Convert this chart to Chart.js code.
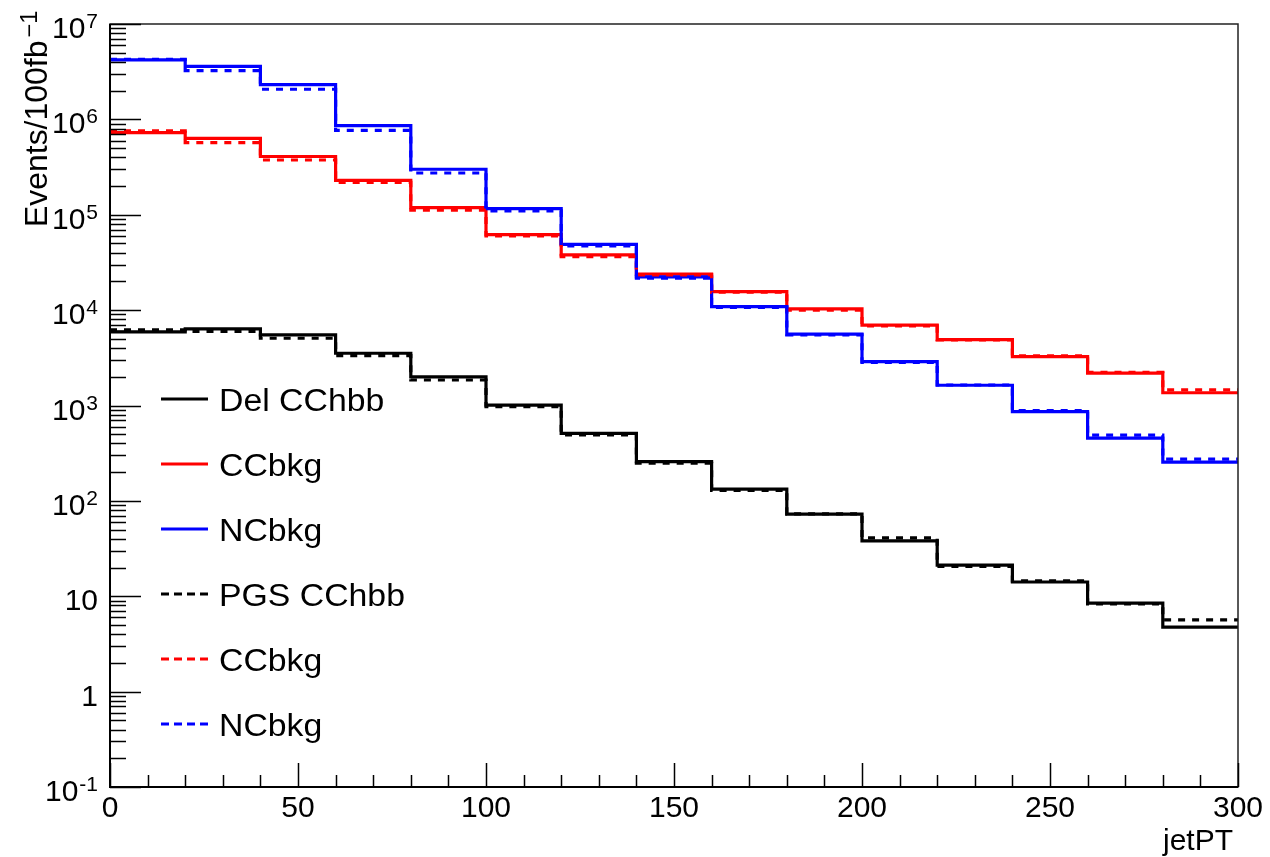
<!DOCTYPE html>
<html><head><meta charset="utf-8">
<script src="https://cdn.jsdelivr.net/npm/chart.js@4"></script>
<style>html,body{margin:0;padding:0;background:#fff;} canvas{display:block;}</style>
</head><body>
<canvas id="c" width="1270" height="857"></canvas>
<script>
// ---- data ----
const binEdges = [0,20,40,60,80,100,120,140,160,180,200,220,240,260,280,300];
const delCChbb = [5910,6350,5500,3530,1995,1010,510,258,133,72.6,38.1,21.2,14.1,8.47,4.74];
const delCCbkg = [726000,631000,408000,229000,119000,61800,37900,23800,15600,10300,6950,4910,3260,2180,1360];
const delNCbkg = [4200000,3600000,2310000,860000,300000,116000,49000,22300,10900,5600,2880,1630,863,454,255];
const pgsCChbb = [6200,5980,5070,3330,1850,975,492,248,129,73.1,40.9,20.5,14.5,8.32,5.66];
const pgsCCbkg = [756000,570000,375000,219000,112000,60000,36400,23400,15400,10000,6830,4870,3310,2220,1460];
const pgsNCbkg = [4270000,3240000,2070000,765000,274000,110000,47100,21600,10700,5500,2830,1640,885,489,274];
const seriesLabels = ['Del CChbb','CCbkg','NCbkg','PGS CChbb','CCbkg','NCbkg'];
const xTickValues = [0,50,100,150,200,250,300];
const yTickExponents = [-1,0,1,2,3,4,5,6,7];
const xTitle = 'jetPT';
const yTitle = 'Events/100fb';
const yTitleSup = '-1';

const FONT = '"Liberation Sans", Arial, Helvetica, sans-serif';

function histPoints(values) {
  return binEdges.map((x, i) => ({ x: x, y: values[Math.min(i, values.length - 1)] }));
}
const seriesValues = [delCChbb, delCCbkg, delNCbkg, pgsCChbb, pgsCCbkg, pgsNCbkg];
const seriesColors = ['#000000','#ff0000','#0000ff','#000000','#ff0000','#0000ff'];
const datasets = seriesValues.map((vals, i) => ({
  label: seriesLabels[i],
  data: histPoints(vals),
  borderColor: seriesColors[i],
  backgroundColor: seriesColors[i],
  borderWidth: 3.2,
  borderDash: i >= 3 ? [7, 7] : [],
  stepped: 'before',
  pointRadius: 0,
  fill: false,
  borderJoinStyle: 'miter',
  borderCapStyle: 'butt',
  order: -i
}));

const rootStyle = {
  id: 'rootStyle',
  afterDraw(chart) {
    const ctx = chart.ctx, a = chart.chartArea, xs = chart.scales.x, ys = chart.scales.y;
    ctx.save();
    ctx.setLineDash([]);
    // frame
    ctx.strokeStyle = '#222';
    ctx.lineWidth = 1.5;
    ctx.strokeRect(a.left, a.top, a.right - a.left, a.bottom - a.top);
    ctx.strokeStyle = '#000';
    ctx.lineWidth = 2;
    ctx.beginPath();
    ctx.moveTo(a.left, a.top); ctx.lineTo(a.left, a.bottom); ctx.lineTo(a.right, a.bottom);
    ctx.stroke();
    // x ticks (inward)
    ctx.lineWidth = 1.5;
    ctx.beginPath();
    for (let v = xs.min; v <= xs.max; v += 10) {
      const px = Math.round(xs.getPixelForValue(v)) + 0.5;
      const len = xTickValues.includes(v) ? 24 : 12;
      ctx.moveTo(px, a.bottom); ctx.lineTo(px, a.bottom - len);
    }
    ctx.stroke();
    // y ticks (inward)
    ctx.beginPath();
    yTickExponents.forEach(e => {
      const py = Math.round(ys.getPixelForValue(Math.pow(10, e))) + 0.5;
      ctx.moveTo(a.left, py); ctx.lineTo(a.left + 31, py);
      if (e < yTickExponents[yTickExponents.length - 1]) {
        for (let m = 2; m <= 9; m++) {
          const pm = Math.round(ys.getPixelForValue(m * Math.pow(10, e))) + 0.5;
          ctx.moveTo(a.left, pm); ctx.lineTo(a.left + 16, pm);
        }
      }
    });
    ctx.stroke();
    // y tick labels
    ctx.fillStyle = '#000';
    ctx.textBaseline = 'alphabetic';
    ctx.textAlign = 'right';
    const labelRight = a.left - 12;
    yTickExponents.forEach(e => {
      const py = ys.getPixelForValue(Math.pow(10, e));
      if (e === 0 || e === 1) {
        ctx.font = '30px ' + FONT;
        ctx.fillText(e === 0 ? '1' : '10', labelRight, py + 14);
      } else {
        const sup = String(e);
        ctx.font = '21px ' + FONT;
        const w = ctx.measureText(sup).width;
        ctx.fillText(sup, labelRight, py + 4);
        ctx.font = '30px ' + FONT;
        ctx.fillText('10', labelRight - w - 1, py + 14);
      }
    });
    // x title
    ctx.font = '30px ' + FONT;
    ctx.textAlign = 'right';
    ctx.fillText(xTitle, a.right - 5, 850);
    // y title (rotated)
    ctx.save();
    ctx.translate(47, 227);
    ctx.rotate(-Math.PI / 2);
    ctx.textAlign = 'left';
    ctx.font = '31px ' + FONT;
    ctx.scale(1.03, 1);
    ctx.fillText(yTitle, 0, 0);
    const tw = ctx.measureText(yTitle).width;
    ctx.font = '23px ' + FONT;
    ctx.fillText('\u2212' + yTitleSup.replace('-', ''), tw + 3, -10);
    ctx.restore();
    // legend
    const lx0 = 161, lx1 = 208, tx = 219, ly0 = 399, dy = 65;
    chart.data.datasets.forEach((ds, i) => {
      const ly = ly0 + i * dy;
      ctx.strokeStyle = ds.borderColor;
      ctx.lineWidth = 3;
      ctx.setLineDash(ds.borderDash.length ? [8, 5] : []);
      ctx.beginPath(); ctx.moveTo(lx0, ly); ctx.lineTo(lx1, ly); ctx.stroke();
      ctx.setLineDash([]);
      ctx.save();
      ctx.translate(tx, ly + 3);
      ctx.scale(1.09, 1);
      ctx.fillStyle = '#000';
      ctx.font = '31px ' + FONT;
      ctx.textAlign = 'left';
      ctx.textBaseline = 'middle';
      ctx.fillText(ds.label, 0, 0);
      ctx.restore();
    });
    ctx.restore();
  }
};

new Chart(document.getElementById('c'), {
  type: 'line',
  data: { datasets: datasets },
  options: {
    responsive: false,
    animation: false,
    events: [],
    layout: { padding: { top: 24, right: 32, left: 0, bottom: 0 } },
    plugins: { legend: { display: false }, tooltip: { enabled: false }, title: { display: false } },
    scales: {
      x: {
        type: 'linear', min: 0, max: 300,
        afterBuildTicks: s => { s.ticks = xTickValues.map(v => ({ value: v })); },
        ticks: { color: '#000', font: { size: 30, family: FONT }, padding: 4, maxRotation: 0, autoSkip: false },
        grid: { display: false, drawTicks: false },
        border: { display: false },
        afterFit: s => { s.height = 70; }
      },
      y: {
        type: 'logarithmic', min: 0.1, max: 1e7,
        ticks: { display: false },
        grid: { display: false, drawTicks: false },
        border: { display: false },
        afterFit: s => { s.width = 110; }
      }
    }
  },
  plugins: [rootStyle]
});
</script>
</body></html>
